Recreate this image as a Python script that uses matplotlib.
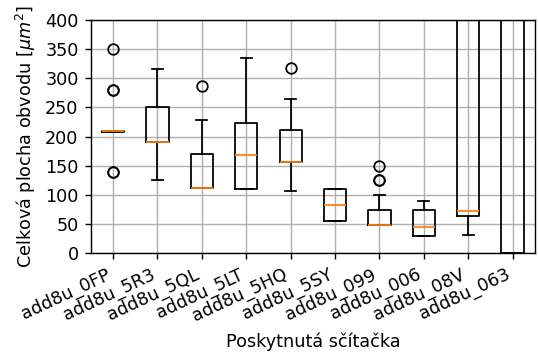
import matplotlib
matplotlib.use("Agg")
import matplotlib.pyplot as plt

# sčítačky a statistiky boxplotu
labels = ['add8u_0FP', 'add8u_5R3', 'add8u_5QL', 'add8u_5LT', 'add8u_5HQ',
          'add8u_5SY', 'add8u_099', 'add8u_006', 'add8u_08V', 'add8u_063']
medians = [209, 190, 112, 168, 157, 82, 48, 44, 72, 900]
q1 = [208, 190, 112, 110, 157, 55, 48, 29, 63, 0]
q3 = [210, 251, 170, 223, 211, 110, 74, 74, 1200, 1500]
whis_lo = [208, 125, 112, 110, 106, 55, 48, 29, 31, 0]
whis_hi = [210, 315, 228, 335, 264, 110, 100, 89, 1400, 1600]
fliers = [[350, 280, 280, 140, 140], [], [286], [], [318], [], [150, 125, 125], [], [], []]

stats = []
for i in range(len(labels)):
    stats.append({
        'label': labels[i],
        'med': medians[i],
        'q1': q1[i],
        'q3': q3[i],
        'whislo': whis_lo[i],
        'whishi': whis_hi[i],
        'fliers': fliers[i],
    })

dpi = 127
fig, ax = plt.subplots(figsize=(538 / dpi, 356 / dpi), dpi=dpi)
ax.bxp(stats)
ax.set_ylim(0, 400)
ax.set_yticks(range(0, 401, 50))
ax.grid(True)
ax.set_xlabel('Poskytnutá sčítačka')
ax.set_ylabel(r'Celková plocha obvodu [$\mu m^2$]')
plt.setp(ax.get_xticklabels(), rotation=25, ha='right')
fig.subplots_adjust(left=0.169, right=0.994, bottom=0.289, top=0.944)
fig.savefig('out.png', dpi=dpi)
